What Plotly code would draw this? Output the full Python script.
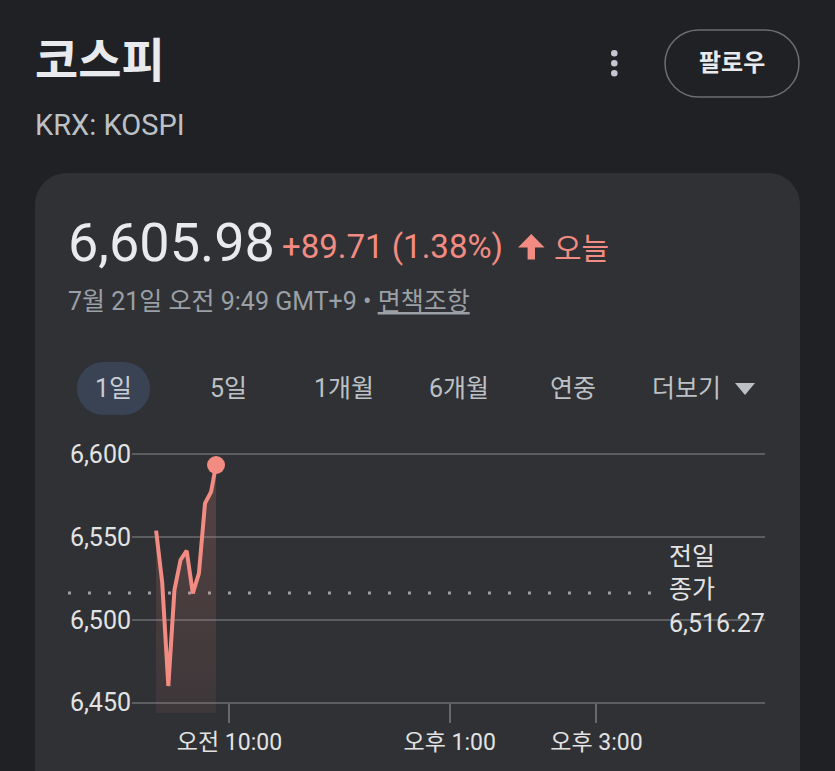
import plotly.graph_objects as go

# ---------------- data ----------------
times = ["2025-07-21 09:00", "2025-07-21 09:05", "2025-07-21 09:10", "2025-07-21 09:15",
         "2025-07-21 09:20", "2025-07-21 09:25", "2025-07-21 09:30", "2025-07-21 09:35",
         "2025-07-21 09:40", "2025-07-21 09:45", "2025-07-21 09:49"]
values = [6553.9, 6522.5, 6460.1, 6518.0, 6536.2, 6541.8, 6516.0, 6528.1, 6570.4, 6577.4, 6593.5]

y_ticks = [6450, 6500, 6550, 6600]
x_tick_vals = ["2025-07-21 10:00", "2025-07-21 13:00", "2025-07-21 15:00"]
x_tick_text = ["오전 10:00", "오후 1:00", "오후 3:00"]

prev_close = 6516.27
current_price = 6605.98
change = 89.71
change_pct = 1.38
tabs = ["1일", "5일", "1개월", "6개월", "연중", "더보기"]

# ---------------- geometry helpers ----------------
W, H = 835, 771
L, R, T, B = 132, 70, 440, 58
PW, PH = W - L - R, H - T - B


def px(x):
    return (x - L) / PW


def py(y):
    return (H - B - y) / PH


def rrect(x0, y0, x1, y1, r):
    k = 0.5523 * r
    pts = [
        f"M {px(x0)},{py(y0 + r)}",
        f"C {px(x0)},{py(y0 + r - k)} {px(x0 + r - k)},{py(y0)} {px(x0 + r)},{py(y0)}",
        f"L {px(x1 - r)},{py(y0)}",
        f"C {px(x1 - r + k)},{py(y0)} {px(x1)},{py(y0 + r - k)} {px(x1)},{py(y0 + r)}",
        f"L {px(x1)},{py(y1 - r)}",
        f"C {px(x1)},{py(y1 - r + k)} {px(x1 - r + k)},{py(y1)} {px(x1 - r)},{py(y1)}",
        f"L {px(x0 + r)},{py(y1)}",
        f"C {px(x0 + r - k)},{py(y1)} {px(x0)},{py(y1 - r + k)} {px(x0)},{py(y1 - r)}",
        "Z",
    ]
    return " ".join(pts)


def poly(points):
    return "M " + " L ".join(f"{px(a)},{py(b)}" for a, b in points) + " Z"


FONT = "Roboto, 'Noto Sans CJK KR', 'Noto Sans', sans-serif"
BG = "#202124"
CARD = "#303134"
RED = "#f28b82"
GRID = "#5b5d61"

fig = go.Figure()

fig.add_trace(go.Scatter(
    x=times, y=values, mode="lines",
    line=dict(color=RED, width=4),
    fill="tozeroy",
    fillgradient=dict(type="vertical",
                      colorscale=[[0, "rgba(242,139,130,0.07)"], [1, "rgba(242,139,130,0.2)"]],
                      start=6444, stop=6600),
    hoverinfo="skip", showlegend=False,
))
fig.add_trace(go.Scatter(
    x=[times[-1]], y=[values[-1]], mode="markers",
    marker=dict(color=RED, size=18),
    hoverinfo="skip", showlegend=False,
))

shapes = []
# card
shapes.append(dict(type="path", xref="paper", yref="paper", path=rrect(35, 173, 800, 860, 32),
                   fillcolor=CARD, line=dict(width=0), layer="below"))
# follow button
shapes.append(dict(type="path", xref="paper", yref="paper", path=rrect(665, 30, 799, 97, 33.5),
                   fillcolor="rgba(0,0,0,0)", line=dict(color="#6b6e72", width=1.5), layer="above"))
# three dots
for cy in (53.3, 63.3, 73.3):
    shapes.append(dict(type="circle", xref="paper", yref="paper",
                       x0=px(611), x1=px(617.6), y0=py(cy - 3.3), y1=py(cy + 3.3),
                       fillcolor="#c4c7d2", line=dict(width=0)))
# selected tab pill
shapes.append(dict(type="path", xref="paper", yref="paper", path=rrect(77, 362, 150, 415, 26.5),
                   fillcolor="#3a4354", line=dict(width=0), layer="above"))
# dropdown triangle
shapes.append(dict(type="path", xref="paper", yref="paper",
                   path=poly([(735, 383), (755, 383), (745, 395)]),
                   fillcolor="#bdc1c6", line=dict(width=0)))
# up arrow
shapes.append(dict(type="path", xref="paper", yref="paper",
                   path=poly([(531.3, 234), (544.5, 247.5), (535, 247.5), (535, 259.5),
                              (527.6, 259.5), (527.6, 247.5), (518, 247.5)]),
                   fillcolor=RED, line=dict(width=0)))
# previous close dotted line
shapes.append(dict(type="line", xref="paper", yref="y", x0=px(68), x1=px(662),
                   y0=prev_close, y1=prev_close,
                   line=dict(color="#9aa0a6", width=3, dash="3px,17px"), layer="below"))

ann = []


def text(x, y, s, size, color, anchor="left", yref="paper"):
    ann.append(dict(x=px(x), y=py(y) if yref == "paper" else y, xref="paper", yref=yref,
                    text=s, showarrow=False, xanchor=anchor, yanchor="middle",
                    font=dict(family=FONT, size=size, color=color)))


text(33, 60, "<b>코스피</b>", 47, "#e8eaed")
text(33, 125, "KRX: KOSPI", 29, "#bdc1c6")
text(732, 63, "<b>팔로우</b>", 24, "#e8eaed", anchor="center")
text(66, 243, f"{current_price:,.2f}", 54, "#e8eaed")
text(280, 246, f"+{change:,.2f} ({change_pct:.2f}%)", 33, RED)
text(552, 248, "오늘", 30, RED)
text(66, 301, "7월 21일 오전 9:49 GMT+9 • <u>면책조항</u>", 25, "#9aa0a6")

tab_x = [113.5, 228, 343.5, 458.5, 572.5, 686]
for i, (t, cx) in enumerate(zip(tabs, tab_x)):
    col = "#c8ccd4" if i == 0 else "#bdc1c6"
    text(cx, 388, t, 25, col, anchor="center")

for s, shift in (("전일", 36), ("종가", 3), (f"{prev_close:,.2f}", -31)):
    ann.append(dict(x=px(667), y=prev_close, xref="paper", yref="y", yshift=shift,
                    text=s, showarrow=False, xanchor="left", yanchor="middle",
                    font=dict(family=FONT, size=25, color="#e3e3e3")))

fig.update_layout(
    width=W, height=H,
    margin=dict(l=L, r=R, t=T, b=B, pad=0),
    paper_bgcolor=BG, plot_bgcolor=CARD,
    shapes=shapes, annotations=ann,
    showlegend=False,
    xaxis=dict(type="date", range=["2025-07-21 08:40:18", "2025-07-21 17:17:48"],
               tickvals=x_tick_vals, ticktext=x_tick_text,
               ticks="outside", ticklen=19, tickwidth=2, tickcolor="#66696e",
               showgrid=False, showline=False, zeroline=False,
               anchor="free", position=0.0377,
               tickfont=dict(family=FONT, size=23, color="#e3e3e3"),
               fixedrange=True),
    yaxis=dict(range=[6443.8, 6608.6], tickvals=y_ticks, tickformat=",",
               showgrid=True, gridcolor=GRID, gridwidth=2,
               zeroline=False, showline=False, ticks="",
               tickfont=dict(family=FONT, size=25, color="#e3e3e3"),
               fixedrange=True),
)

fig.write_html("out.html", config={"displayModeBar": False})
